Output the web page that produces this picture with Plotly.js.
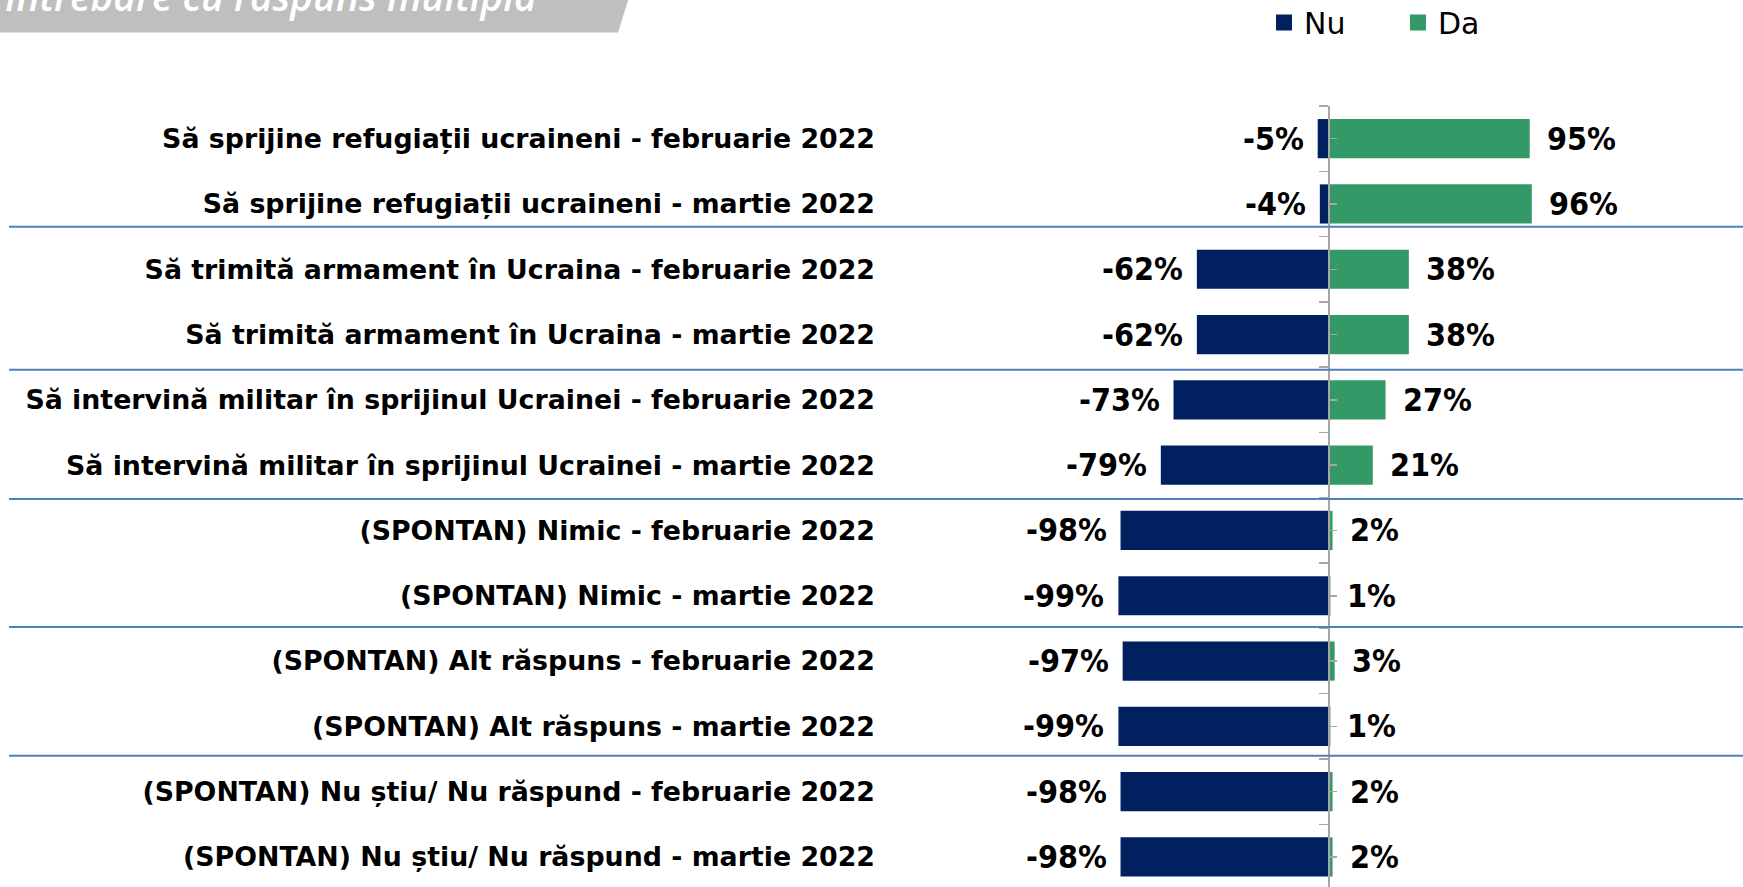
<!DOCTYPE html>
<html>
<head>
<meta charset="utf-8">
<script src="https://cdn.plot.ly/plotly-3.0.1.min.js"></script>
<style>html,body{margin:0;padding:0;background:#fff;}#chart{width:1743px;height:887px;}</style>
</head>
<body>
<div id="chart"></div>
<script>
const categories = [
  "Să sprijine refugiații ucraineni - februarie 2022",
  "Să sprijine refugiații ucraineni - martie 2022",
  "Să trimită armament în Ucraina - februarie 2022",
  "Să trimită armament în Ucraina - martie 2022",
  "Să intervină militar în sprijinul Ucrainei - februarie 2022",
  "Să intervină militar în sprijinul Ucrainei - martie 2022",
  "(SPONTAN) Nimic - februarie 2022",
  "(SPONTAN) Nimic - martie 2022",
  "(SPONTAN) Alt răspuns - februarie 2022",
  "(SPONTAN) Alt răspuns - martie 2022",
  "(SPONTAN) Nu știu/ Nu răspund - februarie 2022",
  "(SPONTAN) Nu știu/ Nu răspund - martie 2022"
];
const nuValues = [-5, -4, -62, -62, -73, -79, -98, -99, -97, -99, -98, -98];
const daValues = [95, 96, 38, 38, 27, 21, 2, 1, 3, 1, 2, 2];
const seriesNames = ["Nu", "Da"];
const bannerText = "Întrebare cu răspuns multiplă";

const W = 1743, H = 887;
const ML = 878, MT = 106.4, MR = 0, MB = 0;
const PW = W - ML - MR, PH = H - MT - MB;
const zeroPx = 1328.3, pxPerUnit = 2.12;
const xMin = -(zeroPx - ML) / pxPerUnit;
const xMax = (W - MR - zeroPx) / pxPerUnit;
const px2x = p => (p - ML) / PW;
const py2y = p => 1 - (p - MT) / PH;

const NAVY = "#002060", GREEN = "#339966";
const FONT = "DejaVu Sans Condensed";

const traces = [
  {type: "bar", orientation: "h", name: seriesNames[0], y: categories, x: nuValues,
   marker: {color: NAVY}, showlegend: false, legendgroup: "nu"},
  {type: "bar", orientation: "h", name: seriesNames[1], y: categories, x: daValues,
   marker: {color: GREEN}, showlegend: false, legendgroup: "da"},
  // legend entries (square swatches)
  {type: "scatter", mode: "markers", name: seriesNames[0], x: [null], y: [null], legendgroup: "nu",
   marker: {color: NAVY, symbol: "square", size: 18}},
  {type: "scatter", mode: "markers", name: seriesNames[1], x: [null], y: [null], legendgroup: "da",
   marker: {color: GREEN, symbol: "square", size: 18}},
  // empty trace so the zero-line axis (y2) is drawn
  {type: "scatter", mode: "markers", x: [], y: [], xaxis: "x", yaxis: "y2", showlegend: false, hoverinfo: "skip"}
];

const annotations = [];
categories.forEach((c, i) => {
  annotations.push({x: nuValues[i], y: c, xref: "x", yref: "y", text: nuValues[i] + "%",
    showarrow: false, xanchor: "right", xshift: -12,
    font: {family: FONT, weight: "bold", size: 32, color: "#000"}});
  annotations.push({x: daValues[i], y: c, xref: "x", yref: "y", text: daValues[i] + "%",
    showarrow: false, xanchor: "left", xshift: 15,
    font: {family: FONT, weight: "bold", size: 32, color: "#000"}});
});
annotations.push({xref: "paper", yref: "paper", x: px2x(3), y: py2y(24), xanchor: "left", yanchor: "bottom",
  text: "<i>" + bannerText + "</i>", showarrow: false,
  font: {family: "Open Sans", weight: 600, size: 39, color: "#fff"}});

const sepY = [1.35, 3.54, 5.52, 7.48, 9.45];
const shapes = sepY.map(v => ({type: "line", xref: "paper", yref: "y", x0: px2x(9), x1: 1, y0: v, y1: v,
  line: {color: "#4F81BD", width: 2}, layer: "above"}));
shapes.push({type: "path", xref: "paper", yref: "paper",
  path: `M${px2x(0)},${py2y(-2)} L${px2x(629)},${py2y(-2)} L${px2x(618)},${py2y(33)} L${px2x(0)},${py2y(33)} Z`,
  fillcolor: "#BFBFBF", line: {width: 0}, layer: "above"});

const bounds = [], centers = [];
for (let i = 0; i <= categories.length; i++) bounds.push(i - 0.5);
for (let i = 0; i < categories.length; i++) centers.push(i);

const layout = {
  width: W, height: H,
  margin: {l: ML, r: MR, t: MT, b: MB, pad: 0, autoexpand: false},
  paper_bgcolor: "#fff", plot_bgcolor: "rgba(0,0,0,0)",
  barmode: "relative", bargap: 0.4,
  showlegend: true,
  legend: {orientation: "h", x: px2x(1264), y: py2y(-3), xanchor: "left", yanchor: "top",
    font: {family: "DejaVu Sans", size: 30, color: "#000"}, itemwidth: 30, itemsizing: "trace",
    entrywidth: 89, entrywidthmode: "pixels", bgcolor: "rgba(0,0,0,0)"},
  xaxis: {range: [xMin, xMax], showgrid: false, zeroline: false, showticklabels: false, ticks: "", showline: false, fixedrange: true},
  yaxis: {type: "category", range: [11.46, -0.5], showgrid: false, zeroline: false, ticks: "", showline: false,
    tickfont: {family: "DejaVu Sans", weight: "bold", size: 26.8, color: "#000"}, ticklabelstandoff: 2, automargin: false},
  yaxis2: {overlaying: "y", anchor: "free", position: px2x(zeroPx), type: "linear", range: [11.46, -0.5],
    showgrid: false, zeroline: false, showticklabels: false, showline: true, linecolor: "#A6A6A6", linewidth: 1.5,
    tickmode: "array", tickvals: bounds, ticks: "outside", ticklen: 9, tickcolor: "#A6A6A6", tickwidth: 1.5,
    minor: {tickmode: "array", tickvals: centers, ticks: "inside", ticklen: 7, tickcolor: "#A6A6A6", tickwidth: 1.5}},
  shapes: shapes,
  annotations: annotations
};

Plotly.newPlot("chart", traces, layout, {displayModeBar: false, staticPlot: true});
</script>
</body>
</html>
